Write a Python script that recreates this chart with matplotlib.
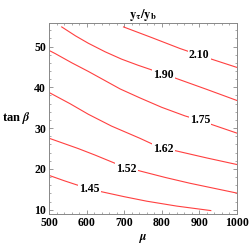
import numpy as np
import matplotlib
matplotlib.use("Agg")
from matplotlib import pyplot as plt
from matplotlib.ticker import MultipleLocator

# contour lines of y_tau/y_b as (mu, tan beta)
mu_210 = [698, 773, 849, 900, 933, 1000]
tb_210 = [54.8, 52.2, 49.5, 47.9, 46.9, 44.9]

mu_190 = [533, 570, 604, 649, 693, 737, 769, 804, 835, 920, 1000]
tb_190 = [54.8, 52.6, 50.8, 48.7, 46.9, 45.4, 44.4, 43.3, 42.3, 39.5, 36.8]

mu_175 = [500, 515, 560, 604, 689, 742, 800, 862, 902, 933, 1000]
tb_175 = [49.0, 48.3, 46.0, 43.9, 39.6, 37.4, 35.1, 33.0, 31.9, 30.9, 28.8]

mu_162 = [500, 555, 604, 666, 742, 775, 804, 835, 920, 1000]
tb_162 = [38.7, 36.0, 33.4, 30.5, 27.5, 26.1, 25.2, 24.5, 22.7, 21.1]

mu_152 = [500, 577, 622, 675, 706, 742, 810, 875, 1000]
tb_152 = [27.5, 25.0, 23.4, 21.4, 20.4, 19.5, 17.9, 16.5, 14.1]

mu_145 = [500, 540, 573, 606, 640, 700, 760, 840, 931]
tb_145 = [18.4, 17.1, 16.1, 15.2, 14.4, 13.2, 12.1, 10.9, 9.8]

levels = ["2.10", "1.90", "1.75", "1.62", "1.52", "1.45"]
label_mu = [900, 804, 902, 804, 706, 607]
label_tb = [47.9, 43.1, 32.0, 25.0, 20.1, 15.1]

xticks = [500, 600, 700, 800, 900, 1000]
yticks = [10, 20, 30, 40, 50]

plt.rc('font', family='Liberation Serif', weight='bold', size=8.5)
plt.rc('mathtext', fontset='stix')

fig = plt.figure(figsize=(2.5, 2.5), dpi=100)
ax = fig.add_axes([0.195, 0.143, 0.754, 0.764])

lines = [(mu_210, tb_210), (mu_190, tb_190), (mu_175, tb_175),
         (mu_162, tb_162), (mu_152, tb_152), (mu_145, tb_145)]
for (m, t), lev, lx, ly in zip(lines, levels, label_mu, label_tb):
    ax.plot(m, t, color='#ff4040', lw=0.8)
    ax.text(lx, ly, lev, ha='center', va='center', fontsize=8.5,
            bbox=dict(facecolor='white', edgecolor='none', pad=0.8))

ax.set_xlim(498.4, 1001.6)
ax.set_ylim(8.9, 55.7)
ax.set_xticks(xticks)
ax.set_yticks(yticks)
ax.xaxis.set_minor_locator(MultipleLocator(20))
ax.yaxis.set_minor_locator(MultipleLocator(2))
ax.tick_params(which='both', direction='in', top=True, right=True,
               color='#888888', pad=2)
ax.tick_params(which='major', length=3, width=0.6)
ax.tick_params(which='minor', length=1.5, width=0.5)
for s in ax.spines.values():
    s.set_color('#888888')
    s.set_linewidth(0.7)

ax.set_title(r"$\mathbf{y_\tau/y_b}$", fontsize=9, pad=4)
ax.set_xlabel(r"$\mu$", fontsize=9, labelpad=2)
fig.text(0.01, 0.53, r"tan $\beta$", fontsize=9, ha='left', va='center')

fig.savefig("out.png", dpi=100)
